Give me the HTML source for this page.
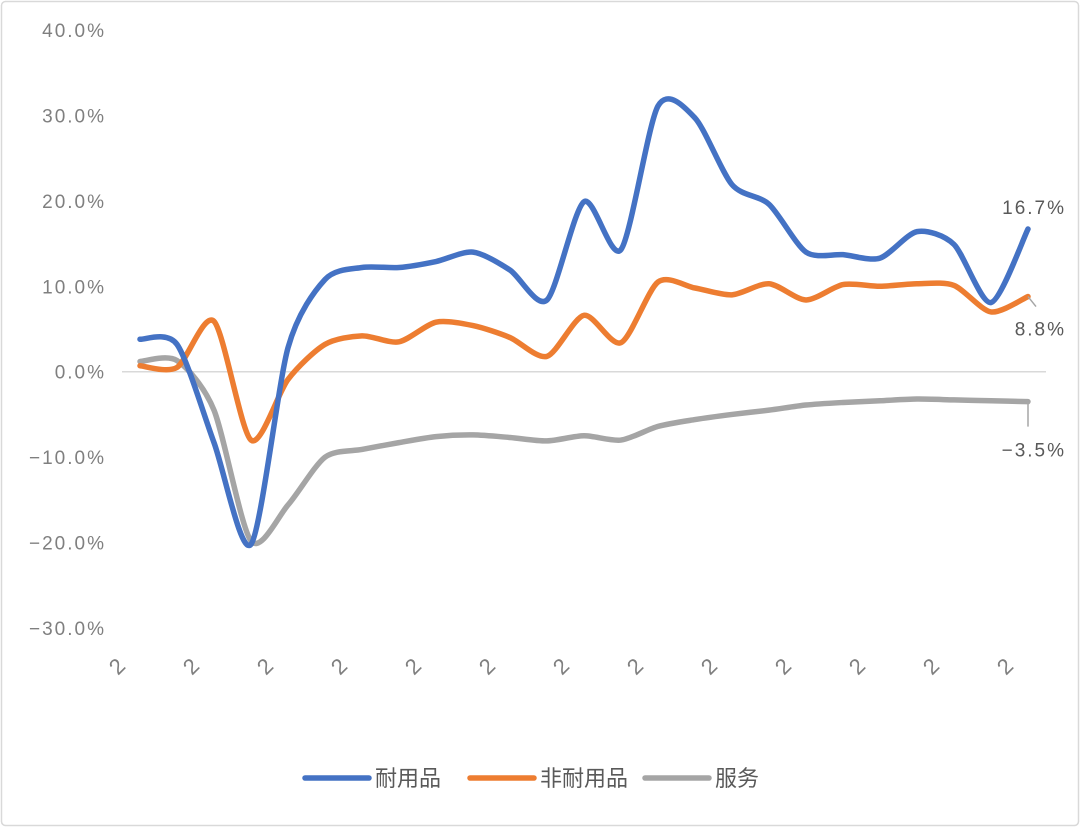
<!DOCTYPE html>
<html><head><meta charset="utf-8">
<style>
body{margin:0;background:#fff;}
svg{display:block;font-family:"Liberation Sans","Noto Sans CJK SC",sans-serif;}
</style></head>
<body>
<svg id="chart" width="1080" height="829" xmlns="http://www.w3.org/2000/svg">
<rect x="1.5" y="1.5" width="1077" height="824" rx="4" fill="#fff" stroke="#d9d9d9" stroke-width="1.5"/>
<g id="yaxis"></g>
<g id="xaxis"></g>
<g id="series"></g>
<g id="labels"></g>
<g id="legend"></g>
</svg>
<script>
const categories = ["2","2","2","2","2","2","2","2","2","2","2","2","2","2","2","2","2","2","2","2","2","2","2","2","2"];
const durable = [3.8,3.2,-8.3,-20.2,2.8,10.8,12.2,12.2,12.9,14.0,11.9,8.4,19.9,14.3,31.1,29.7,21.9,19.6,14.0,13.7,13.3,16.4,14.9,8.1,16.7];
const nondurable = [0.7,0.5,5.9,-8.0,-0.9,3.2,4.2,3.5,5.8,5.4,4.0,1.8,6.6,3.4,10.5,9.8,9.0,10.3,8.4,10.2,10.0,10.3,10.1,7.0,8.8];
const services = [1.2,1.3,-4.5,-19.8,-15.6,-10.0,-9.1,-8.3,-7.6,-7.4,-7.7,-8.1,-7.5,-8.0,-6.4,-5.6,-5.0,-4.5,-3.9,-3.6,-3.4,-3.2,-3.3,-3.4,-3.5];
const yTicks = [40,30,20,10,0,-10,-20,-30];
const seriesNames = ["耐用品","非耐用品","服务"];

const NS="http://www.w3.org/2000/svg";
const x0=140, x1=1028, yTop=30, yBot=628, vMax=40, vMin=-30;
function xs(i){return x0+(x1-x0)*i/(categories.length-1);}
function ys(v){return yTop+(vMax-v)/(vMax-vMin)*(yBot-yTop);}
function mk(tag,attrs,parent){const e=document.createElementNS(NS,tag);for(const k in attrs)e.setAttribute(k,attrs[k]);parent.appendChild(e);return e;}
function fmt(v){return (v<0?'−':'')+Math.abs(v).toFixed(1)+'%';}

const yg=document.getElementById('yaxis');
yTicks.forEach(t=>{
  const tx=mk('text',{x:106,y:ys(t)+7,'text-anchor':'end','font-size':19,fill:'#7f7f7f','letter-spacing':'2'},yg);
  
  
  tx.textContent=fmt(t);
});
const zl=mk('line',{x1:122,x2:1046,y1:ys(0),y2:ys(0),stroke:'#d9d9d9','stroke-width':1.5},yg);



const xg=document.getElementById('xaxis');
categories.forEach((c,i)=>{
  if(i%2!==0)return;
  const x=xs(i)-22, y=676;
  const tx=mk('text',{x:x,y:y,'font-size':22,fill:'#7f7f7f',transform:`rotate(-45 ${x} ${y})`},xg);
  
  
  tx.textContent=c;
});

function smooth(vals){
  const p=vals.map((v,i)=>[xs(i),ys(v)]);
  let d=`M${p[0][0]},${p[0][1]}`;
  const k=7.5;
  for(let i=0;i<p.length-1;i++){
    const a=p[i-1]||p[i],b=p[i],c=p[i+1],e=p[i+2]||c;
    const c1=[b[0]+(c[0]-a[0])/k,b[1]+(c[1]-a[1])/k];
    const c2=[c[0]-(e[0]-b[0])/k,c[1]-(e[1]-b[1])/k];
    d+=` C${c1[0]},${c1[1]} ${c2[0]},${c2[1]} ${c[0]},${c[1]}`;
  }
  return d;
}
const sg=document.getElementById('series');
const colors=['#4472c4','#ed7d31','#a5a5a5'];
const allData=[durable,nondurable,services];
const sNames=['line-durable','line-nondurable','line-services'];
[2,1,0].forEach(k=>{
  const pth=mk('path',{d:smooth(allData[k]),fill:'none',stroke:colors[k],'stroke-width':5.5,'stroke-linecap':'round','stroke-linejoin':'round'},sg);
  
  
});

const lg=document.getElementById('labels');
const last=categories.length-1;
function dl(v,dx,dy,lx,ly){
  const x=xs(last),y=ys(v);
  const ln=mk('line',{x1:x,y1:y,x2:x+lx,y2:y+ly,stroke:'#a6a6a6','stroke-width':1.5},lg);
  
  
  const tx=mk('text',{x:x+dx,y:y+dy,'text-anchor':'end','font-size':19,fill:'#595959','letter-spacing':'2'},lg);
  
  
  tx.textContent=fmt(v);
}
dl(durable[last],38,-15,0,0);
dl(nondurable[last],38,39,8,10);
dl(services[last],38,55,0,25);

const lgd=document.getElementById('legend');
const lx=[305,470,645];
seriesNames.forEach((n,k)=>{
  const g=mk('g',{},lgd);
  
  
  mk('line',{x1:lx[k],x2:lx[k]+64,y1:778,y2:778,stroke:colors[k],'stroke-width':5.5,'stroke-linecap':'round'},g);
  const t=mk('text',{x:lx[k]+70,y:786,'font-size':22,fill:'#595959'},g);
  t.textContent=n;
});
</script>
</body></html>
